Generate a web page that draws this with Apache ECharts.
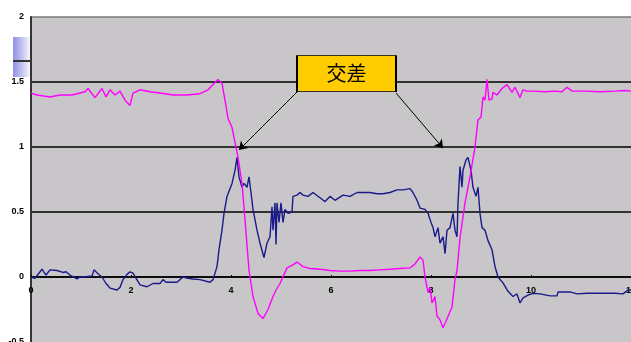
<!DOCTYPE html>
<html>
<head>
<meta charset="utf-8">
<script src="https://cdn.jsdelivr.net/npm/echarts@6/dist/echarts.min.js"></script>
<style>
html,body{margin:0;padding:0;background:#fff;}
#c{width:631px;height:342px;}
</style>
</head>
<body>
<div id="c"></div>
<script>
// ---- data ----
const xTicks = [0, 2, 4, 6, 8, 10, 12];
const yTicks = [-0.5, 0, 0.5, 1, 1.5, 2];
const annotationText = '交差';

const pinkSeries = [
  [0,1.415],[0.12,1.40],[0.38,1.385],[0.58,1.40],[0.82,1.40],[0.98,1.415],[1.08,1.425],
  [1.14,1.45],[1.28,1.38],[1.42,1.45],[1.50,1.385],[1.58,1.44],[1.68,1.40],[1.78,1.43],
  [1.88,1.36],[1.98,1.32],[2.04,1.415],[2.18,1.44],[2.38,1.425],[2.58,1.415],[2.84,1.40],
  [3.12,1.40],[3.38,1.41],[3.54,1.44],[3.64,1.48],[3.74,1.52],[3.82,1.49],[3.88,1.36],
  [3.94,1.22],[4.02,1.15],[4.14,0.92],[4.22,0.72],[4.28,0.44],[4.36,0.05],[4.44,-0.15],
  [4.54,-0.28],[4.64,-0.32],[4.74,-0.25],[4.84,-0.15],[4.90,-0.10],[4.98,-0.05],[5.12,0.07],
  [5.22,0.09],[5.32,0.115],[5.44,0.08],[5.58,0.065],[5.78,0.06],[5.98,0.05],[6.18,0.045],
  [6.38,0.045],[6.58,0.05],[6.78,0.05],[6.98,0.055],[7.18,0.06],[7.38,0.065],[7.58,0.07],
  [7.68,0.10],[7.78,0.155],[7.84,0.13],[7.88,0.0],[7.94,-0.12],[7.98,-0.08],[8.02,-0.2],
  [8.08,-0.15],[8.12,-0.3],[8.18,-0.33],[8.24,-0.39],[8.30,-0.34],[8.34,-0.33],[8.42,-0.23],
  [8.48,-0.02],[8.52,0.05],[8.58,0.30],[8.68,0.57],[8.78,0.77],[8.88,1.0],[8.94,1.21],
  [9.00,1.23],[9.04,1.385],[9.08,1.36],[9.12,1.52],[9.16,1.36],[9.22,1.37],[9.24,1.42],
  [9.32,1.40],[9.42,1.45],[9.52,1.48],[9.62,1.42],[9.68,1.46],[9.78,1.38],[9.84,1.44],
  [9.92,1.43],[10.04,1.43],[10.28,1.425],[10.48,1.43],[10.62,1.425],[10.72,1.46],
  [10.82,1.43],[11.08,1.43],[11.38,1.425],[11.68,1.43],[11.88,1.435],[12.0,1.43]
];

const blueSeries = [
  [0,0.0],[0.08,-0.01],[0.22,0.06],[0.30,0.015],[0.38,0.055],[0.52,0.05],[0.64,0.035],
  [0.70,0.04],[0.78,0.015],[0.92,-0.015],[0.98,0.0],[1.04,0.0],[1.22,0.008],[1.26,0.055],
  [1.34,0.025],[1.42,0.0],[1.50,-0.05],[1.58,-0.085],[1.72,-0.10],[1.78,-0.08],[1.84,-0.02],
  [1.92,0.02],[1.98,0.04],[2.04,0.03],[2.08,0.015],[2.18,-0.06],[2.32,-0.075],[2.44,-0.05],
  [2.58,-0.05],[2.64,-0.02],[2.70,-0.04],[2.74,-0.05],[2.92,-0.04],[3.04,0.0],[3.14,-0.01],
  [3.24,-0.015],[3.38,-0.02],[3.58,-0.04],[3.64,-0.02],[3.72,0.08],[3.76,0.21],[3.82,0.36],
  [3.86,0.49],[3.92,0.62],[4.02,0.72],[4.08,0.82],[4.12,0.92],[4.16,0.77],[4.22,0.69],
  [4.26,0.72],[4.32,0.69],[4.36,0.77],[4.40,0.65],[4.44,0.52],[4.52,0.36],[4.58,0.26],
  [4.66,0.15],[4.72,0.26],[4.78,0.31],[4.82,0.54],[4.84,0.36],[4.88,0.57],[4.90,0.25],
  [4.92,0.57],[4.96,0.42],[5.00,0.57],[5.04,0.42],[5.08,0.52],[5.14,0.49],[5.22,0.50],
  [5.24,0.62],[5.32,0.63],[5.38,0.65],[5.44,0.63],[5.54,0.62],[5.64,0.65],[5.78,0.61],
  [5.88,0.58],[5.98,0.62],[6.08,0.59],[6.24,0.63],[6.38,0.62],[6.52,0.65],[6.64,0.65],
  [6.78,0.65],[6.92,0.64],[7.04,0.64],[7.18,0.65],[7.32,0.67],[7.44,0.67],[7.58,0.68],
  [7.64,0.65],[7.72,0.59],[7.78,0.53],[7.88,0.52],[7.94,0.49],[8.00,0.42],[8.04,0.38],
  [8.08,0.31],[8.14,0.38],[8.18,0.26],[8.24,0.31],[8.28,0.18],[8.32,0.36],[8.38,0.38],
  [8.44,0.49],[8.48,0.36],[8.52,0.31],[8.54,0.57],[8.58,0.85],[8.62,0.69],[8.64,0.82],
  [8.70,0.90],[8.74,0.92],[8.80,0.82],[8.84,0.69],[8.90,0.62],[8.94,0.69],[8.98,0.49],
  [9.02,0.38],[9.08,0.36],[9.14,0.28],[9.22,0.21],[9.28,0.08],[9.34,0.0],[9.44,-0.045],
  [9.54,-0.11],[9.64,-0.15],[9.72,-0.13],[9.78,-0.2],[9.80,-0.21],[9.84,-0.16],[9.94,-0.14],
  [10.04,-0.125],[10.18,-0.13],[10.38,-0.145],[10.52,-0.145],[10.54,-0.115],[10.78,-0.115],
  [10.92,-0.13],[11.12,-0.125],[11.38,-0.125],[11.68,-0.125],[11.84,-0.13],[11.94,-0.10],[12.0,-0.10]
];

// ---- chart ----
const chart = echarts.init(document.getElementById('c'), null, {renderer: 'canvas'});
const labelFont = {fontSize: 9, fontWeight: 'bold', color: '#000', fontFamily: 'Liberation Sans'};

chart.setOption({
  animation: false,
  backgroundColor: '#ffffff',
  grid: {left: 31, right: 0, top: 17, bottom: 0, containLabel: false, outerBoundsMode: 'none',
         show: true, backgroundColor: '#C8C6C8', borderWidth: 0},
  xAxis: {
    type: 'value', position: 'bottom', offset: -65,
    min: xTicks[0], max: xTicks[xTicks.length - 1], interval: 2,
    axisLine: {onZero: false, lineStyle: {color: '#000', width: 1.5}},
    axisTick: {show: true, inside: true, length: 2, lineStyle: {color: '#000'}},
    axisLabel: Object.assign({margin: 9, showMinLabel: true, showMaxLabel: true, hideOverlap: false}, labelFont),
    splitLine: {show: false}
  },
  yAxis: {
    type: 'value', min: yTicks[0], max: yTicks[yTicks.length - 1], interval: 0.5,
    axisLine: {show: true, onZero: false, lineStyle: {color: '#333', width: 2}},
    axisTick: {show: false},
    axisLabel: Object.assign({margin: 7}, labelFont),
    splitLine: {show: true, lineStyle: {color: ['rgba(0,0,0,0)', '#000', '#000', '#000', '#000', '#777'], width: 1.5}}
  },
  graphic: [
    {type: 'rect', left: 13, top: 37, shape: {width: 18, height: 40}, z: -1,
     style: {fill: new echarts.graphic.LinearGradient(0, 0, 1, 0, [
       {offset: 0, color: 'rgba(110,110,220,0.75)'}, {offset: 1, color: 'rgba(255,255,255,0.9)'}])}},
    {type: 'line', shape: {x1: 13, y1: 61, x2: 31, y2: 61}, style: {stroke: '#333', lineWidth: 2}}
  ],
  series: [
    {
      type: 'line', data: blueSeries, showSymbol: false, symbol: 'none',
      lineStyle: {color: '#1A1A8A', width: 1.4}, z: 2,
      markLine: {
        silent: true, symbol: ['none', 'arrow'], symbolSize: 8,
        label: {show: false},
        lineStyle: {color: '#000', width: 1, type: 'solid'},
        data: [
          [{coord: [5.32, 1.423]}, {coord: [4.16, 0.977]}],
          [{coord: [7.30, 1.415]}, {coord: [8.24, 0.992]}]
        ]
      }
    },
    {
      type: 'line', data: pinkSeries, showSymbol: false, symbol: 'none',
      lineStyle: {color: '#FF00FF', width: 1.4}, z: 3,
      markPoint: {
        silent: true, symbol: 'rect', symbolSize: [99, 36],
        itemStyle: {color: '#FFCC00', borderColor: '#000', borderWidth: 1.2},
        label: {show: true, position: 'inside', formatter: annotationText, color: '#000', fontSize: 20,
                fontFamily: 'Noto Sans CJK JP'},
        data: [{coord: [6.31, 1.565]}]
      }
    }
  ]
});
</script>
</body>
</html>
